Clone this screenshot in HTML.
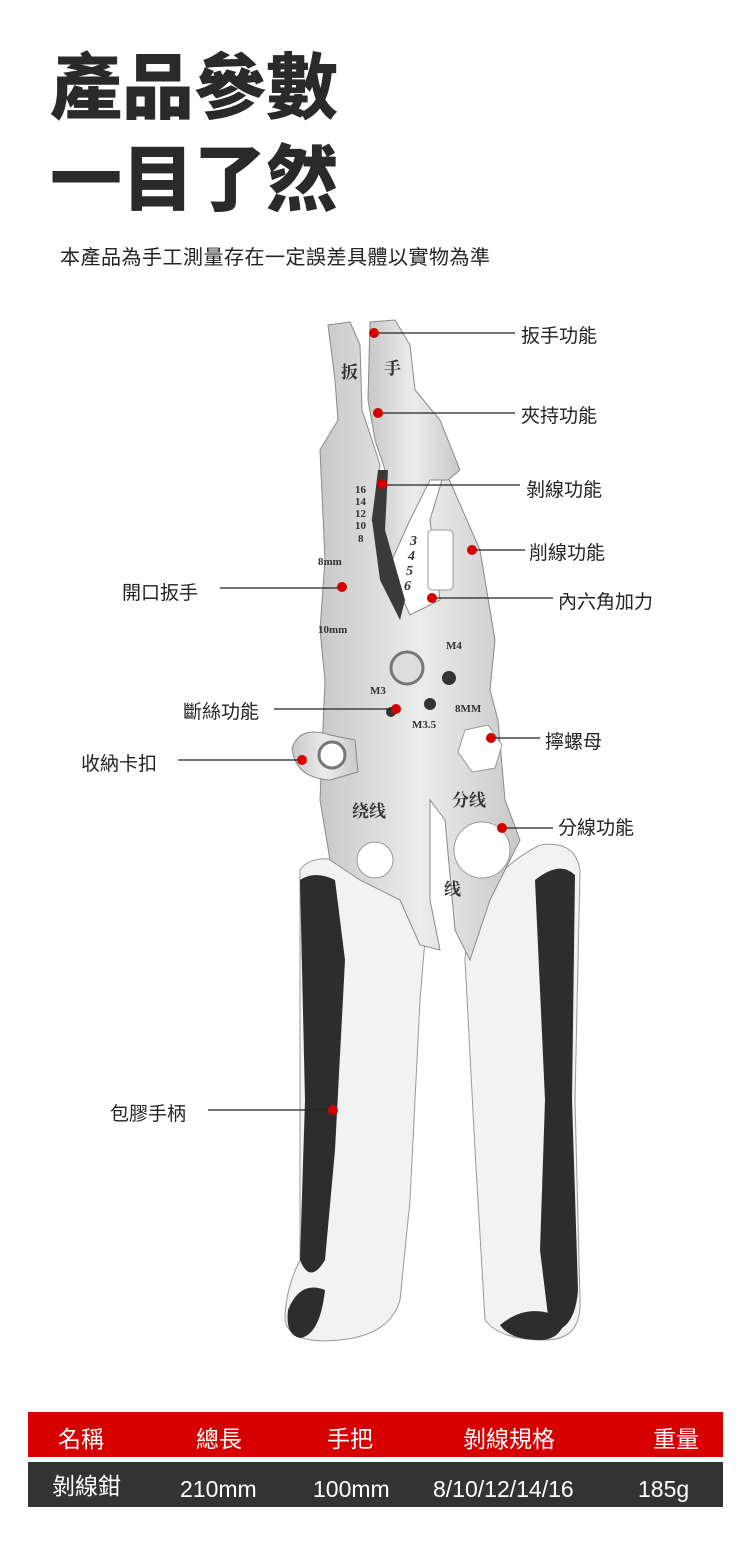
<!DOCTYPE html>
<html><head><meta charset="utf-8">
<style>
body{margin:0;background:#fff;width:750px;height:1561px;position:relative;overflow:hidden;font-family:"Liberation Sans","Noto Sans CJK TC",sans-serif;}
.t{position:absolute;color:#222;}
.h{font-weight:900;font-size:72px;left:50px;letter-spacing:0px;color:#2a2a2a;font-family:"Noto Sans CJK TC",sans-serif;line-height:1;}
.lb{position:absolute;font-size:19px;color:#222;font-family:"Liberation Sans","Noto Sans CJK TC",sans-serif;}
.row{position:absolute;left:28px;width:695px;height:45px;}
.row span{position:absolute;top:8px;font-size:23px;color:#fff;font-family:"Liberation Sans","Noto Sans CJK TC",sans-serif;}
</style></head><body>
<div class="t h" style="top:46px">產品參數</div>
<div class="t h" style="top:138px">一目了然</div>
<div class="t" style="top:241px;left:60px;font-size:20px;letter-spacing:0.5px;font-family:'Noto Sans CJK TC',sans-serif">本產品為手工測量存在一定誤差具體以實物為準</div>

<svg width="750" height="1561" style="position:absolute;left:0;top:0" xmlns="http://www.w3.org/2000/svg">
<defs>
<linearGradient id="m" x1="0" x2="1"><stop offset="0" stop-color="#c8c8c8"/><stop offset=".5" stop-color="#ececec"/><stop offset="1" stop-color="#c8c8c8"/></linearGradient>
</defs>
<path d="M300 870 Q310 855 340 860 L430 880 L420 1000 L410 1200 L400 1300 Q390 1335 340 1340 Q290 1345 285 1320 Q285 1290 300 1260 Z" fill="#f2f2f2" stroke="#999" stroke-width="1"/>
<path d="M300 880 Q315 870 335 880 L345 960 L335 1150 L325 1260 Q310 1285 300 1260 L305 1100 Z" fill="#2d2d2d"/>
<path d="M288 1310 Q300 1280 325 1290 Q320 1335 300 1338 Q285 1335 288 1310 Z" fill="#2d2d2d"/>
<path d="M465 960 Q470 880 540 845 Q575 840 580 870 L575 1100 L580 1300 Q582 1340 545 1340 Q500 1340 485 1320 L475 1150 Z" fill="#f2f2f2" stroke="#999" stroke-width="1"/>
<path d="M535 880 Q560 860 575 875 L572 1100 L578 1290 Q575 1330 550 1332 L540 1250 L545 1100 Z" fill="#2d2d2d"/>
<path d="M500 1325 Q530 1300 565 1320 Q560 1340 540 1340 Q510 1340 500 1325 Z" fill="#2d2d2d"/>
<path d="M328 325 L350 322 L360 345 L362 410 L372 440 L380 465 L372 520 L385 560 L410 615 L440 600 L430 520 L445 470 L480 550 L495 640 L490 690 L498 720 L505 800 L520 840 L490 900 L470 960 L455 930 L445 820 L430 800 L430 900 L440 950 L420 945 L400 900 L360 880 L330 860 L320 800 L325 680 L320 630 L325 560 L320 450 L338 420 L335 380 Z" fill="url(#m)" stroke="#8a8a8a"/>
<path d="M370 322 L395 320 L410 345 L415 390 L440 420 L460 470 L448 480 L430 480 L410 520 L392 560 L380 520 L385 470 L375 440 L368 400 Z" fill="url(#m)" stroke="#8a8a8a"/>
<path d="M378 470 L388 470 L385 530 L405 600 L400 620 L380 580 L372 520 Z" fill="#3a3a3a"/>
<rect x="428" y="530" width="25" height="60" rx="4" fill="#fff" stroke="#999"/>
<circle cx="407" cy="668" r="16" fill="#ddd" stroke="#777" stroke-width="3"/>
<circle cx="449" cy="678" r="7" fill="#333"/><circle cx="430" cy="704" r="6" fill="#333"/><circle cx="391" cy="712" r="5" fill="#333"/>
<polygon points="465,730 488,725 502,745 495,768 472,772 458,752" fill="#fff" stroke="#999"/>
<circle cx="482" cy="850" r="28" fill="#fff" stroke="#999"/>
<circle cx="375" cy="860" r="18" fill="#fff" stroke="#999"/>
<path d="M292 748 Q300 725 330 735 L355 740 L358 772 L330 780 Q295 778 292 748 Z" fill="url(#m)" stroke="#888"/>
<circle cx="332" cy="755" r="13" fill="#fff" stroke="#777" stroke-width="3"/>
<g font-family="Liberation Serif,Noto Serif CJK SC,serif" font-weight="bold" fill="#333">
<text x="341" y="378" font-size="17">扳</text><text x="384" y="374" font-size="17">手</text>
<text x="355" y="493" font-size="11">16</text><text x="355" y="505" font-size="11">14</text><text x="355" y="517" font-size="11">12</text><text x="355" y="529" font-size="11">10</text><text x="358" y="542" font-size="11">8</text>
<text x="318" y="565" font-size="11">8mm</text><text x="318" y="633" font-size="11">10mm</text>
<text x="410" y="545" font-size="14" font-style="italic">3</text><text x="408" y="560" font-size="14" font-style="italic">4</text><text x="406" y="575" font-size="14" font-style="italic">5</text><text x="404" y="590" font-size="14" font-style="italic">6</text>
<text x="446" y="649" font-size="11">M4</text><text x="370" y="694" font-size="11">M3</text><text x="455" y="712" font-size="11">8MM</text><text x="412" y="728" font-size="11">M3.5</text>
<text x="352" y="817" font-size="17">绕线</text><text x="452" y="806" font-size="17">分线</text><text x="444" y="895" font-size="17">线</text>
</g>
<g stroke="#222" stroke-width="1.2">
<line x1="378" y1="333" x2="515" y2="333"/><line x1="378" y1="413" x2="515" y2="413"/><line x1="382" y1="485" x2="520" y2="485"/>
<line x1="472" y1="550" x2="525" y2="550"/><line x1="432" y1="598" x2="553" y2="598"/><line x1="220" y1="588" x2="342" y2="588"/>
<line x1="274" y1="709" x2="395" y2="709"/><line x1="490" y1="738" x2="540" y2="738"/><line x1="178" y1="760" x2="302" y2="760"/>
<line x1="502" y1="828" x2="553" y2="828"/><line x1="208" y1="1110" x2="332" y2="1110"/>
</g>
<g fill="#d40000">
<circle cx="374" cy="333" r="5"/><circle cx="378" cy="413" r="5"/><circle cx="382" cy="484" r="5"/><circle cx="472" cy="550" r="5"/><circle cx="432" cy="598" r="5"/><circle cx="342" cy="587" r="5"/><circle cx="396" cy="709" r="5"/><circle cx="491" cy="738" r="5"/><circle cx="302" cy="760" r="5"/><circle cx="502" cy="828" r="5"/><circle cx="333" cy="1110" r="5"/>
</g>
</svg>
<div class="lb" style="left:521px;top:321px">扳手功能</div>
<div class="lb" style="left:521px;top:401px">夾持功能</div>
<div class="lb" style="left:526px;top:475px">剝線功能</div>
<div class="lb" style="left:529px;top:538px">削線功能</div>
<div class="lb" style="left:558px;top:587px">內六角加力</div>
<div class="lb" style="left:122px;top:578px">開口扳手</div>
<div class="lb" style="left:183px;top:697px">斷絲功能</div>
<div class="lb" style="left:545px;top:727px">擰螺母</div>
<div class="lb" style="left:81px;top:749px">收納卡扣</div>
<div class="lb" style="left:558px;top:813px">分線功能</div>
<div class="lb" style="left:110px;top:1099px">包膠手柄</div>
<div class="row" style="top:1412px;background:#d60000"><span style="left:30px">名稱</span><span style="left:168px">總長</span><span style="left:299px">手把</span><span style="left:435px">剝線規格</span><span style="left:625px">重量</span></div>
<div class="row" style="top:1462px;background:#333"><span style="left:24px;top:5px">剝線鉗</span><span style="left:152px;top:14px">210mm</span><span style="left:285px;top:14px">100mm</span><span style="left:405px;top:14px">8/10/12/14/16</span><span style="left:610px;top:14px">185g</span></div>
</body></html>
